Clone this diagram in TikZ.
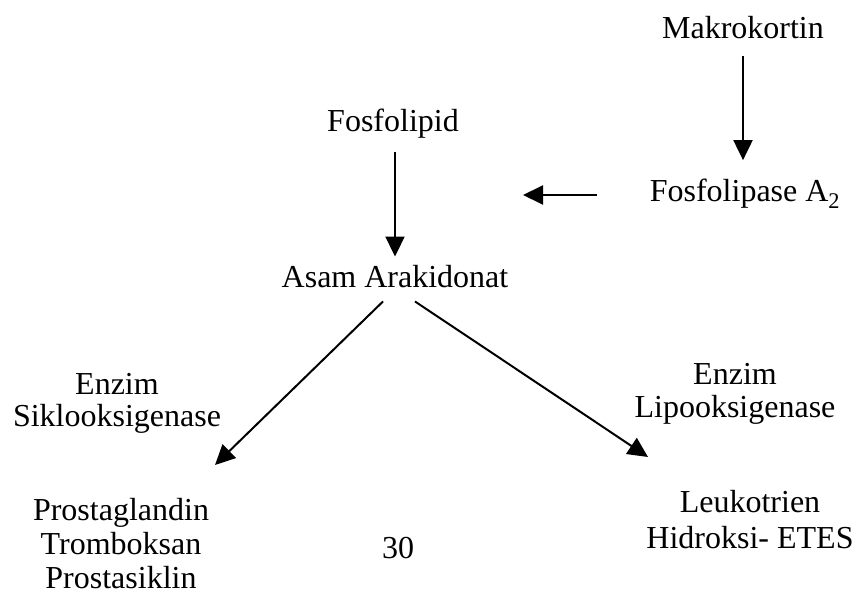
\documentclass[tikz,border=0pt]{standalone}
\usepackage{fontspec}
\setmainfont{Liberation Serif}
\usetikzlibrary{arrows.meta,calc}
\begin{document}
\begin{tikzpicture}[x=1pt,y=-1pt,
  txt/.style={inner sep=0pt, font=\fontsize{32}{33}\selectfont, align=center},
  arr/.style={line width=2pt, -{Triangle[length=20pt,width=19pt]}}]
\fill[white] (0,0) rectangle (859,594);
\useasboundingbox (0,0) rectangle (859,594);
% nodes
\node[txt] (mak) at (743,28) {Makrokortin};
\node[txt] (fa) at (745,194) {Fosfolipase A\textsubscript{2}};
\node[txt] (fp) at (393,124) {Fosfolipid};
\node[txt] (aa) at (395,277) {Asam Arakidonat};
\node[txt, anchor=north, font=\fontsize{32}{32}\selectfont] (ens) at (117,373) {Enzim\\Siklooksigenase};
\node[txt, anchor=north, font=\fontsize{32}{34}\selectfont] (pg) at (121,498) {Prostaglandin\\Tromboksan\\Prostasiklin};
\node[txt] (num) at (398,548) {30};
\node[txt, anchor=north, font=\fontsize{32}{33}\selectfont] (enl) at (735,363) {Enzim\\Lipooksigenase};
\node[txt, anchor=north, font=\fontsize{32}{36}\selectfont] (lt) at (750,490) {Leukotrien\\Hidroksi- ETES};
% free ends
\coordinate (inhs) at (597,195);
\coordinate (inh) at (523,195);
\coordinate (tipL) at (215,465);
\coordinate (tipR) at (648,457);
% connectors
\draw[arr, shorten <=17pt, shorten >=19pt] (mak.south) -- (mak.south |- fa.north);
\draw[arr] (inhs) -- (inh);
\draw[arr, shorten <=13pt, shorten >=9pt] (fp.south -| aa.north) -- (aa.north);
\draw[arr] ($(aa.south)+(-12,13)$) -- (tipL);
\draw[arr] ($(aa.south)+(20,13)$) -- (tipR);
\end{tikzpicture}
\end{document}
